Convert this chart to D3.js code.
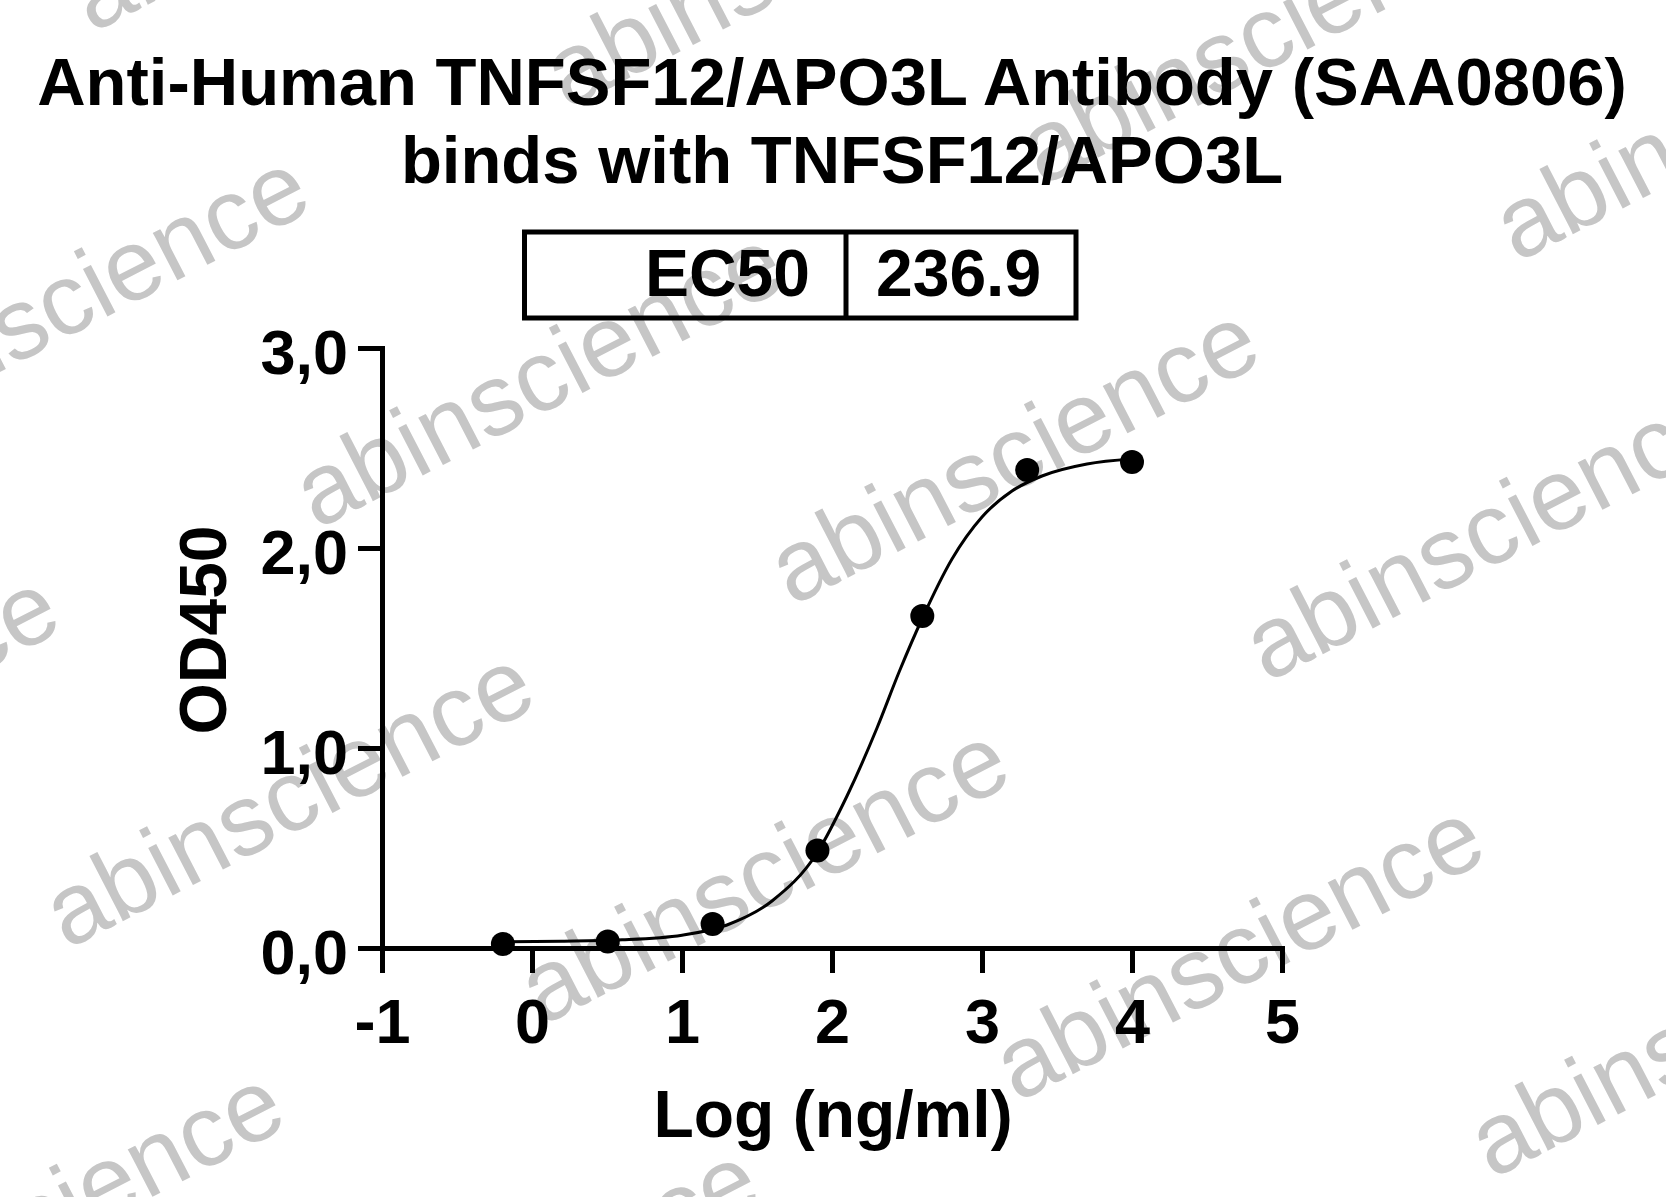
<!DOCTYPE html>
<html>
<head>
<meta charset="utf-8">
<script src="https://cdn.jsdelivr.net/npm/d3@7"></script>
<style>
html,body{margin:0;padding:0;background:#fff;}
svg{display:block;}
</style>
</head>
<body>
<svg id="chart" width="1666" height="1197"></svg>
<script>
// ---------------- data ----------------
const titleLines = ["Anti-Human TNFSF12/APO3L Antibody (SAA0806)", "binds with TNFSF12/APO3L"];
const xTickValues = [-1, 0, 1, 2, 3, 4, 5];
const xTickLabels = ["-1", "0", "1", "2", "3", "4", "5"];
const yTickValues = [0, 1, 2, 3];
const yTickLabels = ["0,0", "1,0", "2,0", "3,0"];
// measured points: log10 concentration (ng/ml) vs OD450
const logConc = [-0.194, 0.505, 1.204, 1.903, 2.602, 3.301, 4.0];
const od450   = [0.020, 0.032, 0.120, 0.487, 1.660, 2.390, 2.430];
// fitted curve
const fitLogConc = [-0.194, 0.2, 0.6, 1.0, 1.3, 1.6, 1.9, 2.1, 2.3, 2.45, 2.6, 2.8, 3.0, 3.2, 3.4, 3.7, 4.0];
const fitOD      = [0.031, 0.034, 0.041, 0.064, 0.115, 0.235, 0.475, 0.76, 1.10, 1.385, 1.645, 1.945, 2.155, 2.285, 2.36, 2.42, 2.445];
const ec50Label = "EC50";
const ec50Value = "236.9";
const xAxisTitle = "Log (ng/ml)";
const yAxisTitle = "OD450";
const watermarkText = "abinscience";

// ---------------- drawing ----------------
const W = 1666, H = 1197;
const FONT = "'Liberation Sans', Arial, Helvetica, sans-serif";
const svg = d3.select("#chart");
svg.append("rect").attr("width", W).attr("height", H).attr("fill", "#fff");

// watermark (decoration)
const wm = svg.append("g").attr("class", "watermark");
const O = [67, 950], A = [475, 76.5], B = [250, -420];
for (let i = -4; i <= 5; i++) {
  for (let j = -3; j <= 5; j++) {
    const px = O[0] + i * A[0] + j * B[0];
    const py = O[1] + i * A[1] + j * B[1];
    if (px < -650 || px > W + 50 || py < -60 || py > H + 320) continue;
    wm.append("text")
      .attr("transform", `translate(${px},${py}) rotate(-27.3)`)
      .attr("font-family", FONT)
      .attr("font-size", 101)
      .attr("fill", "#c6c6c6")
      .text(watermarkText);
  }
}

const x = d3.scaleLinear().domain([-1, 5]).range([382, 1282]);
const y = d3.scaleLinear().domain([0, 3]).range([948, 348]);

// title
const titleCenters = [832, 842];
svg.append("g").selectAll("text").data(titleLines).join("text")
  .attr("x", (d, i) => titleCenters[i])
  .attr("y", (d, i) => 105 + i * 78)
  .attr("text-anchor", "middle")
  .attr("font-family", FONT)
  .attr("font-weight", "bold")
  .attr("font-size", 67)
  .attr("fill", "#000")
  .text(d => d);

// EC50 box
const box = svg.append("g");
box.append("rect")
  .attr("x", 524.5).attr("y", 232).attr("width", 551.5).attr("height", 86)
  .attr("fill", "none").attr("stroke", "#000").attr("stroke-width", 5);
box.append("line")
  .attr("x1", 846).attr("x2", 846).attr("y1", 232).attr("y2", 318)
  .attr("stroke", "#000").attr("stroke-width", 5);
box.append("text")
  .attr("x", 810).attr("y", 296).attr("text-anchor", "end")
  .attr("font-family", FONT).attr("font-weight", "bold").attr("font-size", 66)
  .text(ec50Label);
box.append("text")
  .attr("x", 876).attr("y", 296).attr("text-anchor", "start")
  .attr("font-family", FONT).attr("font-weight", "bold").attr("font-size", 66)
  .text(ec50Value);

// axes
function styleAxis(g) {
  g.select(".domain").attr("stroke", "#000").attr("stroke-width", 5).attr("stroke-linecap", "square");
  g.selectAll(".tick line").attr("stroke", "#000").attr("stroke-width", 5);
  g.selectAll(".tick text")
    .attr("font-family", FONT).attr("font-weight", "bold").attr("font-size", 63).attr("fill", "#000");
}

const gx = svg.append("g")
  .attr("transform", `translate(0,${y(0)})`)
  .call(d3.axisBottom(x).tickValues(xTickValues).tickSize(25).tickSizeOuter(0)
    .tickFormat((d, i) => xTickLabels[i]));
styleAxis(gx);
gx.selectAll(".tick text").attr("y", 95).attr("dy", 0);

const gy = svg.append("g")
  .attr("transform", `translate(${x(-1)},0)`)
  .call(d3.axisLeft(y).tickValues(yTickValues).tickSize(24).tickPadding(10).tickSizeOuter(0)
    .tickFormat((d, i) => yTickLabels[i]));
styleAxis(gy);
gy.selectAll(".tick text").attr("dy", 25);

// axis titles
svg.append("text")
  .attr("x", 833).attr("y", 1137).attr("text-anchor", "middle")
  .attr("font-family", FONT).attr("font-weight", "bold").attr("font-size", 66)
  .text(xAxisTitle);
svg.append("text")
  .attr("transform", "translate(226,630) rotate(-90)")
  .attr("text-anchor", "middle")
  .attr("font-family", FONT).attr("font-weight", "bold").attr("font-size", 66)
  .text(yAxisTitle);

// fitted curve
const fit = fitLogConc.map((d, i) => [d, fitOD[i]]);
svg.append("path")
  .datum(fit)
  .attr("fill", "none")
  .attr("stroke", "#000")
  .attr("stroke-width", 3)
  .attr("d", d3.line().x(d => x(d[0])).y(d => y(d[1])).curve(d3.curveMonotoneX));

// points
const pts = logConc.map((d, i) => [d, od450[i]]);
svg.append("g").selectAll("circle").data(pts).join("circle")
  .attr("cx", d => x(d[0]))
  .attr("cy", d => y(d[1]))
  .attr("r", 12)
  .attr("fill", "#000");
</script>
</body>
</html>
